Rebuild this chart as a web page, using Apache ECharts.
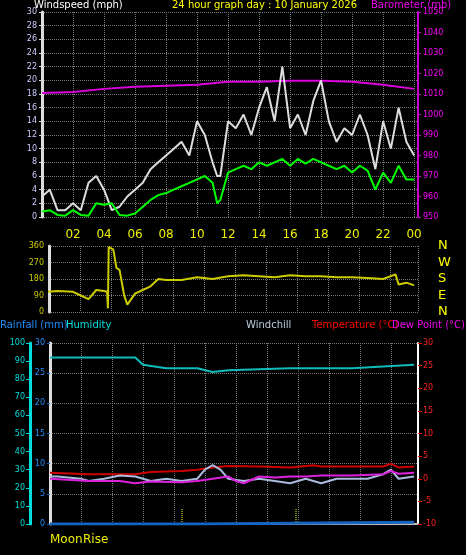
<!DOCTYPE html>
<html><head><meta charset="utf-8">
<script src="https://cdn.jsdelivr.net/npm/echarts@6/dist/echarts.min.js"></script>
<style>html,body{margin:0;background:#000}#c{width:466px;height:555px}</style>
</head><body><div id="c"></div>
<script>
// hours of day
const windHours = [0,0.5,1,1.5,2,2.5,3,3.5,4,4.5,5,5.5,6,6.5,7,7.5,8,8.5,9,9.5,10,10.5,11,11.3,11.5,12,12.5,13,13.5,14,14.5,15,15.5,16,16.5,17,17.5,18,18.5,19,19.5,20,20.5,21,21.5,22,22.5,23,23.5,24];
const windAvg = [0.8,1.0,0.3,0.2,1.0,0.3,0.2,2.0,1.8,2.0,0.3,0.2,0.5,1.5,2.5,3.2,3.5,4,4.5,5,5.5,6,5,2,2.5,6.5,7,7.5,7,8,7.5,8,8.5,7.5,8.5,7.8,8.5,8,7.5,7,7.5,6.5,7.5,6.8,4.0,6.5,5,7.5,5.5,5.5];
const windGust = [3,4,1,1,2,1,5,6,4,1,1.5,3,4,5,7,8,9,10,11,9,14,12,8,6,6,14,13,15,12,16,19,14,22,13,15,12,17,20,14,11,13,12,15,12,7,14,10,16,11,9];
const baroHours = [0,2,4,6,8,10,12,14,16,18,20,22,24];
const baro = [1010.5,1011,1012.5,1013.5,1014,1014.5,1016,1016,1016.5,1016.5,1016,1014.5,1012.5];
const dirHours = [0.3,1,2,2.5,3,3.5,4,4.2,4.25,4.3,4.6,4.8,5,5.3,5.5,6,6.5,7,7.5,8,9,10,11,12,13,14,15,16,17,18,19,20,21,22,22.8,23,23.5,24];
const dirDeg = [110,115,110,90,70,120,115,110,20,355,340,240,230,90,40,100,120,140,180,175,175,190,180,195,200,195,190,200,195,195,190,190,185,180,205,150,160,145];
const humHours = [0.5,6,6.5,8,10,11,12,16,20,22,24];
const humidity = [92,92,88,86,86,84,85,86,86,87,88];
const tempHours = [0.5,3,6,7,9,10,11,12,14,16,17.5,18,20,22,22.5,23,24];
const temperature = [1.3,1,1,1.5,1.7,2,2.5,2.8,2.7,2.5,3,2.7,2.7,2.7,3.3,2.5,2.7];
const dewHours = [0.5,3,5,6,7,9,10,11,12,12.5,13,14,15,16,17,18,20,22,22.5,23,24];
const dewPoint = [0,-0.5,-0.5,-1,-0.6,-0.8,-0.5,0,0.5,-0.5,-1,0.5,0.3,0.5,0.5,0.7,0.7,1,1.7,1.1,1.3];
const chillHours = [0.5,1,2.5,3,4,5,6,7,8,9,10,10.5,11,11.5,12,13,14,15,16,17,18,19,20,21,22,22.5,23,24];
const windchill = [0.5,0.5,0,-0.5,0,0.7,0.5,-0.5,0,-0.5,0,2,3,2,0,-0.5,0,-0.5,-1,0,-1,0,0,0,1,2,0,0.5];
const rainHours = [0.5,10.3,10.35,24];
const rainfall = [0,0,0.3,0.3];

const zip=(a,b)=>a.map((x,i)=>[x,b[i]]);
const grid=()=>({lineStyle:{color:'#777',type:'dotted'}});
const xa=(gi,show,min)=>({type:'value',gridIndex:gi,min:min,max:24.25,interval:2,
  axisLine:{show:gi==2,lineStyle:{color:'#bbb',width:2}},axisTick:{show:false},
  splitLine:grid(),
  axisLabel:{show:show,color:'#ee0',fontSize:12,fontFamily:'DejaVu Sans',margin:12,
    formatter:v=>{if(v<=0||v%2)return '';const h=Math.round(v)%24;return (h<10?'0':'')+h;}}});
const lbl=(c)=>({color:c,fontSize:8,fontFamily:'DejaVu Sans',margin:5});
const ch=echarts.init(document.getElementById('c'));
ch.setOption({
 backgroundColor:'#000',animation:false,
 grid:[{left:42,right:48,top:12,height:205},{left:49,right:48,top:246,height:66},{left:50,right:48,top:343,height:181}],
 xAxis:[xa(0,true,0),xa(1,false,0.45),xa(2,true,0.5)],
 yAxis:[
  {gridIndex:0,min:0,max:30,interval:2,axisLine:{show:true,lineStyle:{color:'#ddd',width:3}},axisTick:{show:true,length:3},axisLabel:lbl('#ccf'),splitLine:grid()},
  {gridIndex:0,position:'right',min:950,max:1050,interval:10,axisLine:{show:true,lineStyle:{color:'#c0c',width:2}},axisTick:{show:true,length:3,lineStyle:{color:'#c0c'}},axisLabel:Object.assign(lbl('#f0f'),{formatter:v=>String(v)}),splitLine:{show:false}},
  {gridIndex:1,min:0,max:360,interval:90,axisLine:{show:true,lineStyle:{color:'#ddd',width:3}},axisTick:{show:false},axisLabel:lbl('#cc0'),splitLine:grid()},
  {gridIndex:1,position:'right',min:0,max:360,interval:90,axisLine:{show:false},axisTick:{show:false},splitLine:{show:false},
   axisLabel:{color:'#ff0',fontSize:13,fontFamily:'DejaVu Sans',margin:20,formatter:v=>({0:'N',90:'E',180:'S',270:'W',360:'N'})[v]}},
  {gridIndex:2,position:'left',min:0,max:30,interval:5,axisLine:{show:true,lineStyle:{color:'#ddd',width:3}},axisTick:{show:true,length:3,lineStyle:{color:'#06c'}},axisLabel:lbl('#1e90ff'),splitLine:grid()},
  {gridIndex:2,position:'left',min:0,max:100,interval:10,offset:20,axisLine:{show:true,lineStyle:{color:'#0dd',width:3}},axisTick:{show:true,length:4,lineStyle:{color:'#0dd'}},axisLabel:lbl('#0dd'),splitLine:{show:false}},
  {gridIndex:2,position:'right',min:-10,max:30,interval:5,axisLine:{show:true,lineStyle:{color:'#fff',width:2}},axisTick:{show:true,length:4,lineStyle:{color:'#e00'}},axisLabel:lbl('#f22'),splitLine:{show:false}}
 ],
 series:[
  {type:'line',xAxisIndex:0,yAxisIndex:1,data:zip(baroHours,baro),symbol:'none',lineStyle:{color:'#d0d',width:2}},
  {type:'line',xAxisIndex:0,yAxisIndex:0,data:zip(windHours,windGust),symbol:'none',lineStyle:{color:'#ddd',width:2}},
  {type:'line',xAxisIndex:0,yAxisIndex:0,data:zip(windHours,windAvg),symbol:'none',lineStyle:{color:'#0f0',width:2}},
  {type:'line',xAxisIndex:1,yAxisIndex:2,data:zip(dirHours,dirDeg),symbol:'none',lineStyle:{color:'#cc0',width:2}},
  {type:'line',xAxisIndex:2,yAxisIndex:5,data:zip(humHours,humidity),symbol:'none',lineStyle:{color:'#1bb',width:2}},
  {type:'line',xAxisIndex:2,yAxisIndex:6,data:zip(tempHours,temperature),symbol:'none',lineStyle:{color:'#c00',width:2}},
  {type:'line',xAxisIndex:2,yAxisIndex:6,data:zip(chillHours,windchill),symbol:'none',lineStyle:{color:'#abd',width:2}},
  {type:'line',xAxisIndex:2,yAxisIndex:6,data:zip(dewHours,dewPoint),symbol:'none',lineStyle:{color:'#d2d',width:2}},
  {type:'line',xAxisIndex:2,yAxisIndex:4,data:zip(rainHours,rainfall),symbol:'none',lineStyle:{color:'#1565c0',width:3}}
 ],
 graphic:[
  {type:'text',left:34,top:0,style:{text:'Windspeed (mph)',fill:'#fff',font:'10px DejaVu Sans'}},
  {type:'text',left:172,top:0,style:{text:'24 hour graph day : 10 January 2026',fill:'#ff0',font:'10px DejaVu Sans'}},
  {type:'text',left:371,top:0,style:{text:'Barometer (mb)',fill:'#e0e',font:'10px DejaVu Sans'}},
  {type:'text',left:0,top:320,style:{text:'Rainfall (mm)',fill:'#1e90ff',font:'10px DejaVu Sans'}},
  {type:'text',left:66,top:320,style:{text:'Humidity',fill:'#0dd',font:'10px DejaVu Sans'}},
  {type:'text',left:246,top:320,style:{text:'Windchill',fill:'#bcd',font:'10px DejaVu Sans'}},
  {type:'text',left:312,top:320,style:{text:'Temperature (°C)',fill:'#f00',font:'10px DejaVu Sans'}},
  {type:'text',left:392,top:320,style:{text:'Dew Point (°C)',fill:'#e0e',font:'10px DejaVu Sans'}},
  {type:'text',left:50,top:534,style:{text:'Moon',fill:'#ee0',font:'12px DejaVu Sans'}},
  {type:'text',left:83,top:534,style:{text:'Rise',fill:'#ee0',font:'12px DejaVu Sans'}},
  {type:'line',shape:{x1:182,y1:509,x2:182,y2:524},style:{stroke:'#ff0',lineDash:[1,1]}},
  {type:'line',shape:{x1:296,y1:509,x2:296,y2:524},style:{stroke:'#ff0',lineDash:[1,1]}}
 ]
});
</script></body></html>
